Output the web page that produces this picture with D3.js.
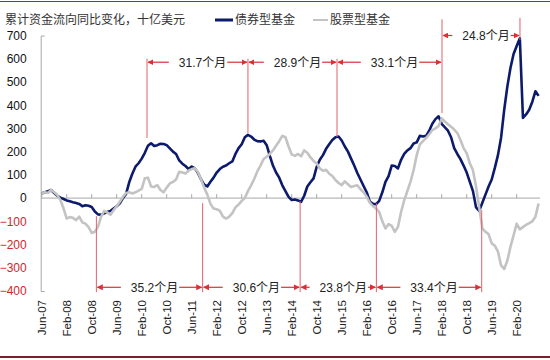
<!DOCTYPE html>
<html>
<head>
<meta charset="utf-8">
<script src="https://cdn.jsdelivr.net/npm/d3@7"></script>
<style>
body { margin: 0; background: #fff; }
svg { display: block; font-family: "Liberation Sans", Arial, "Noto Sans CJK SC", sans-serif; }
</style>
</head>
<body>
<div class="chart"></div>
<script>
// month index 0 = Jun-07, one value per month
const xLabels = ["Jun-07","Feb-08","Oct-08","Jun-09","Feb-10","Oct-10","Jun-11","Feb-12","Oct-12","Jun-13",
    "Feb-14","Oct-14","Jun-15","Feb-16","Oct-16","Jun-17","Feb-18","Oct-18","Jun-19","Feb-20"];
const yTicks = [-400,-300,-200,-100,0,100,200,300,400,500,600,700];

const bondFlow = [
    20,25,30,35,22,10,2,-4,-10,-14,-18,-21,-25,-35,-31,-33,-38,-58,-70,-72,
    -66,-60,-55,-45,-35,-22,0,18,68,105,135,150,170,195,225,236,224,228,234,233,
    228,214,200,190,162,148,138,125,136,128,108,80,58,50,70,88,110,125,135,140,
    150,158,190,215,232,262,272,265,252,245,244,247,228,182,140,110,88,55,30,5,
    -8,-6,-10,-16,10,50,68,85,135,165,185,212,232,250,262,265,248,222,200,170,
    140,108,80,52,25,-15,-25,-26,-12,25,70,95,140,138,128,165,190,205,215,235,
    240,268,265,268,290,320,340,352,320,305,290,262,215,190,168,140,110,70,30,-40,
    -55,-20,15,50,80,130,185,260,380,480,560,620,655,688,345,360,380,415,460,440
];
const equityFlow = [
    20,25,22,35,25,13,-9,-45,-88,-82,-85,-95,-80,-105,-110,-125,-150,-145,-124,-80,
    -55,-62,-72,-52,-35,-16,6,22,25,20,25,32,40,85,88,50,48,56,35,25,
    45,63,70,80,113,110,106,118,125,128,112,80,45,15,-25,-45,-48,-55,-80,-88,
    -80,-65,-40,-28,-12,0,30,55,82,115,140,168,178,190,205,225,245,268,262,222,
    188,182,190,180,205,195,175,160,149,128,118,122,105,95,78,65,56,72,60,48,
    52,55,38,25,6,-20,-35,-45,-60,-100,-131,-112,-120,-145,-124,-60,-10,30,70,120,
    185,230,245,258,275,293,300,310,343,330,318,307,295,280,250,215,193,150,120,49,
    -40,-130,-145,-155,-195,-205,-230,-290,-305,-270,-210,-160,-110,-135,-125,-115,-108,-100,-80,-23
];

// cycle markers (month index) and spans
const topMarkers = [33.7, 66.0, 94.5, 128.1, 153.05];
const topMarkerTops = [600, 600, 600, 770, 776];
const topMarkerEnds = [259, 280, 263, 366, 681];
const topSpanLabels = ["31.7个月","28.9个月","33.1个月","24.8个月"];
const topSpanLevels = [585, 585, 585, 700];

const bottomMarkers = [17.5, 51.5, 82.7, 107.1, 140.8];
const bottomMarkerTops = [-78, -22, -13, -22, -52];
const bottomSpanLabels = ["35.2个月","30.6个月","23.8个月","33.4个月"];
const bottomLevel = -384;
const bottomEnd = -405;

const W = 550, H = 360;
const margin = {top: 35.5, right: 8.3, bottom: 69, left: 41.7};

const svg = d3.select(".chart").append("svg")
    .attr("width", W)
    .attr("height", H);

const red = "#dc2f35";

svg.append("defs").append("marker")
    .attr("id", "arr")
    .attr("viewBox", "0 0 10 10")
    .attr("refX", 9)
    .attr("refY", 5)
    .attr("markerWidth", 6)
    .attr("markerHeight", 6)
    .attr("markerUnits", "userSpaceOnUse")
    .attr("orient", "auto")
    .append("path")
    .attr("d", "M0,0L10,5L0,10z")
    .attr("fill", red);

// frame lines
svg.append("line").attr("x1", 0).attr("x2", W).attr("y1", 1.5).attr("y2", 1.5)
    .attr("stroke", "#8a3434").attr("stroke-width", 1.2);
svg.append("line").attr("x1", 0).attr("x2", W).attr("y1", 357).attr("y2", 357)
    .attr("stroke", "#7a1f2c").attr("stroke-width", 2.2);

const x = d3.scaleLinear()
    .domain([0, 160])
    .range([margin.left, W - margin.right]);

const y = d3.scaleLinear()
    .domain([-400, 700])
    .range([H - margin.bottom, margin.top]);

// y axis
const yAxis = svg.append("g")
    .attr("transform", `translate(${x(0) - 1},0)`)
    .call(d3.axisLeft(y).tickValues(yTicks).tickSizeInner(0).tickSizeOuter(-4).tickPadding(14));
yAxis.select(".domain").attr("stroke", "#a8a8a8");
yAxis.selectAll("text")
    .style("font-size", "12px")
    .attr("fill", d => d < 0 ? "#d0262c" : "#111");

// x labels at bottom
const xAxis = svg.append("g")
    .attr("transform", `translate(0,${y(-400)})`)
    .call(d3.axisBottom(x).tickValues(xLabels.map((d, i) => i * 8)).tickFormat((d, i) => xLabels[i]).tickSize(0));
xAxis.select(".domain").remove();
xAxis.selectAll("text")
    .style("font-size", "11.5px")
    .attr("fill", "#222")
    .attr("text-anchor", "end")
    .attr("transform", "rotate(-90)")
    .attr("x", -9)
    .attr("y", 0)
    .attr("dy", "0.35em");

// zero line with small upward ticks
svg.append("line")
    .attr("x1", x(0)).attr("x2", x(159.5))
    .attr("y1", y(0)).attr("y2", y(0))
    .attr("stroke", "#a8a8a8");
svg.append("g").selectAll("line")
    .data(xLabels.map((d, i) => i * 8))
    .enter().append("line")
    .attr("x1", d => x(d)).attr("x2", d => x(d))
    .attr("y1", y(0)).attr("y2", y(0) - 4)
    .attr("stroke", "#a8a8a8");

// series
const line = d3.line()
    .x((d, i) => x(i))
    .y(d => y(d));

svg.append("path")
    .datum(bondFlow)
    .attr("fill", "none")
    .attr("stroke", "#0c1a6b")
    .attr("stroke-width", 2.6)
    .attr("stroke-linejoin", "round")
    .attr("d", line);

svg.append("path")
    .datum(equityFlow)
    .attr("fill", "none")
    .attr("stroke", "#c3c3c3")
    .attr("stroke-width", 2.6)
    .attr("stroke-linejoin", "round")
    .attr("d", line);

// annotations
const ann = svg.append("g");

ann.selectAll(".tm")
    .data(topMarkers)
    .enter().append("line")
    .attr("x1", d => x(d)).attr("x2", d => x(d))
    .attr("y1", (d, i) => y(topMarkerTops[i]))
    .attr("y2", (d, i) => y(topMarkerEnds[i]))
    .attr("stroke", "#e0606a")
    .attr("stroke-width", 1);

ann.selectAll(".bm")
    .data(bottomMarkers)
    .enter().append("line")
    .attr("x1", d => x(d)).attr("x2", d => x(d))
    .attr("y1", (d, i) => y(bottomMarkerTops[i]))
    .attr("y2", y(bottomEnd))
    .attr("stroke", "#e0606a")
    .attr("stroke-width", 1);

function drawSpan(m0, m1, level, label){
    const x0 = x(m0), x1 = x(m1);
    const cx = (x0 + x1) / 2 + 5;
    const t = ann.append("text")
        .attr("x", cx)
        .attr("y", y(level))
        .attr("dy", "0.36em")
        .attr("text-anchor", "middle")
        .attr("fill", "#222")
        .style("font-size", "12px")
        .text(label);
    const w = t.node().getComputedTextLength();
    ann.append("line")
        .attr("x1", cx - w / 2 - 10).attr("x2", x0 + 1)
        .attr("y1", y(level)).attr("y2", y(level))
        .attr("stroke", red).attr("stroke-width", 1.2)
        .attr("marker-end", "url(#arr)");
    ann.append("line")
        .attr("x1", cx + w / 2 + 1).attr("x2", x1 - 1)
        .attr("y1", y(level)).attr("y2", y(level))
        .attr("stroke", red).attr("stroke-width", 1.2)
        .attr("marker-end", "url(#arr)");
}

topSpanLabels.forEach((lab, i) => drawSpan(topMarkers[i], topMarkers[i + 1], topSpanLevels[i], lab));
bottomSpanLabels.forEach((lab, i) => drawSpan(bottomMarkers[i], bottomMarkers[i + 1], bottomLevel, lab));

// title and legend
svg.append("text")
    .attr("x", 5).attr("y", 20).attr("dy", "0.35em")
    .style("font-family", "'Noto Sans CJK SC', sans-serif")
    .style("font-size", "12px")
    .attr("fill", "#333")
    .text("累计资金流向同比变化，十亿美元");

const legend = svg.append("g").style("font-family", "'Noto Sans CJK SC', sans-serif").style("font-size", "12px");
legend.append("line").attr("x1", 215).attr("x2", 233).attr("y1", 20).attr("y2", 20)
    .attr("stroke", "#0c1a6b").attr("stroke-width", 3);
legend.append("text").attr("x", 235).attr("y", 20).attr("dy", "0.35em").attr("fill", "#333").text("债券型基金");
legend.append("line").attr("x1", 313).attr("x2", 328).attr("y1", 20).attr("y2", 20)
    .attr("stroke", "#c3c3c3").attr("stroke-width", 2);
legend.append("text").attr("x", 330).attr("y", 20).attr("dy", "0.35em").attr("fill", "#333").text("股票型基金");
</script>
</body>
</html>
